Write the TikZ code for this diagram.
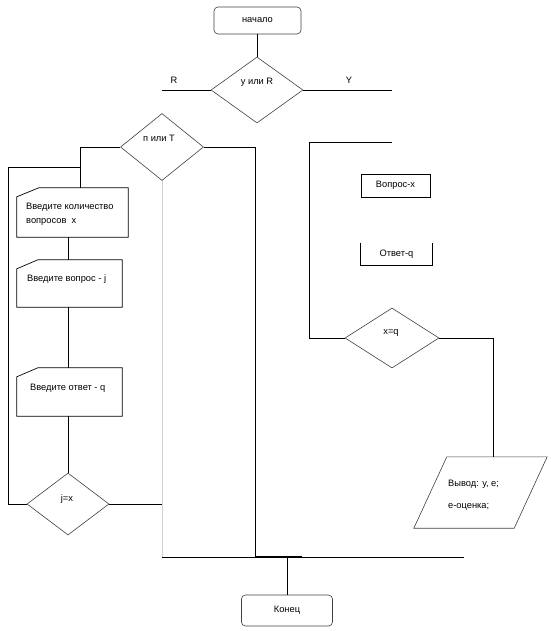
\documentclass[tikz,border=0pt]{standalone}
\usepackage{fontspec}
\setmainfont{Liberation Sans}
\usetikzlibrary{shapes.geometric,calc}
\begin{document}
\begin{tikzpicture}[x=1pt,y=-1pt,
  every node/.style={font=\fontsize{9.3}{11}\selectfont},
  ln/.style={line width=0.7pt, draw=black},
  dia/.style={diamond, draw=black!75, line width=0.6pt, inner sep=0pt},
  rbox/.style={rectangle, rounded corners=4pt, draw=black!75, line width=0.6pt, inner sep=0pt},
  frame/.style={rectangle, inner sep=0pt},
  txt/.style={inner sep=0pt},
]
\useasboundingbox (0,0) rectangle (550,631);
% start
\node[rbox, minimum width=87pt, minimum height=27pt] (start) at (257.5,20.5) {начало};
\node[dia, minimum width=92pt, minimum height=66pt] (d1) at (257,90) {};
\node[txt] (t1) at (257,82) {у или R};
\coordinate (rl) at (162,90);
\coordinate (yr) at (392,90);
\node[txt] (lr) at (174,80) {R};
\node[txt] (ly) at (349,80) {Y};
\draw[ln] (d1.north |- start.south) -- (d1.north);
\draw[ln] (d1.west) -- (rl);
\draw[ln] (d1.east) -- (yr);
% left branch
\node[dia, minimum width=83pt, minimum height=67pt] (d2) at (162,147) {};
\node[txt] (t2) at (159,138) {п или Т};
\node[frame, minimum width=111pt, minimum height=49pt] (b1) at (72.5,212.5) {};
\draw[ln] ($(b1.north west)+(0,9)$) -- ($(b1.north west)+(22,0)$) -- (b1.north east) -- (b1.south east) -- (b1.south west) -- cycle;
\node[txt, anchor=west] (t3a) at (26,207) {Введите количество};
\node[txt, anchor=west] (t3b) at (26,222) {вопросов\ \ x};
\node[frame, minimum width=105pt, minimum height=47pt] (b2) at (69.5,283.5) {};
\draw[ln] ($(b2.north west)+(0,9)$) -- ($(b2.north west)+(21,0)$) -- (b2.north east) -- (b2.south east) -- (b2.south west) -- cycle;
\node[txt, anchor=west] (t4) at (27,279) {Введите вопрос - j};
\node[frame, minimum width=105pt, minimum height=48pt] (b3) at (69.5,392) {};
\draw[ln] ($(b3.north west)+(0,9)$) -- ($(b3.north west)+(21,0)$) -- (b3.north east) -- (b3.south east) -- (b3.south west) -- cycle;
\node[txt, anchor=west] (t5) at (30,388) {Введите ответ - q};
\node[dia, minimum width=82pt, minimum height=62pt] (d3) at (68,504) {};
\node[txt] (t6) at (67,499) {j=x};
\coordinate (c1) at (80,147);
\coordinate (c2) at (80,167);
\coordinate (c3) at (8,167);
\coordinate (c4) at (162,504);
\coordinate (c5) at (162,557);
\coordinate (c6) at (256,557);
\coordinate (c7) at (255,147);
\coordinate (c8) at (464,557);
\coordinate (c9) at (302,557);
\draw[ln] (d2.west) -- (c1) -- (c1 |- b1.north);
\draw[ln] (c2) -- (c3) -- (c3 |- d3.west) -- (d3.west);
\draw[ln] (b1.south -| d3.north) -- (b2.north -| d3.north);
\draw[ln] (b2.south -| d3.north) -- (b3.north -| d3.north);
\draw[ln] (b3.south -| d3.north) -- (d3.north);
\draw[ln] (d3.east) -- (c4);
\draw[line width=0.7pt, draw=black!18] (d2.south) -- (c5);
\draw[ln] (c5) -- (c6);
\draw[ln] (d2.east) -- (c7) -- (c7 |- c6);
\draw[ln] (c6) -- (c8);
\draw[line width=1.6pt] (c6) -- (c9);
% end
\node[rbox, minimum width=91pt, minimum height=31pt] (end) at (287,610.5) {Конец};
\draw[ln] (end.north |- c6) -- (end.north);
% right branch
\coordinate (r1) at (392,142);
\coordinate (r2) at (309,142);
\node[frame, draw=black, line width=0.7pt, minimum width=69pt, minimum height=23pt] (q) at (395.5,185.5) {Вопрос-x};
\node[frame, minimum width=71pt, minimum height=22pt] (a) at (396.5,254) {Ответ-q};
\draw[ln] (a.north west) -- (a.south west) -- (a.south east) -- (a.north east);
\node[dia, minimum width=94pt, minimum height=60pt] (d4) at (392,338) {};
\node[txt] (t7) at (391,333) {x=q};
\draw[ln] (r1) -- (r2) -- (r2 |- d4.west) -- (d4.west);
\coordinate (r3) at (493,338);
\node[frame, minimum width=133pt, minimum height=71pt] (out) at (480.5,492.5) {};
\draw[black!75, line width=0.6pt] ($(out.north west)+(33,0)$) -- (out.north east) -- ($(out.south east)+(-33,0)$) -- (out.south west) -- cycle;
\node[txt, anchor=west] (t8a) at (448,484) {Вывод: у, е;};
\node[txt, anchor=west] (t8b) at (448,507) {е-оценка;};
\draw[ln] (d4.east) -- (r3) -- (r3 |- out.north);
\end{tikzpicture}
\end{document}
